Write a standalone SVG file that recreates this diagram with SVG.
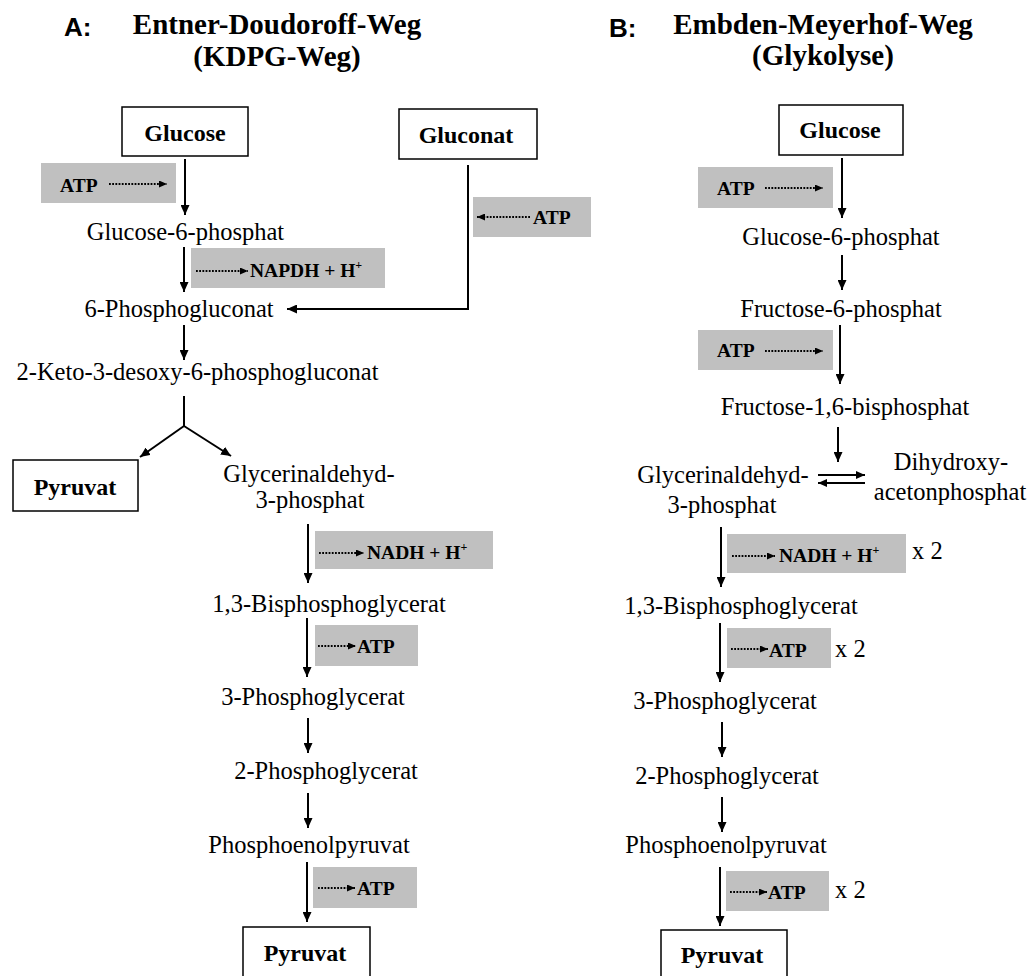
<svg xmlns="http://www.w3.org/2000/svg" width="1034" height="976" viewBox="0 0 1034 976">
<style>
.bg{fill:#ffffff}
.hd{font-family:"Liberation Sans",Arial,sans-serif;font-weight:bold;font-size:26px;fill:#000}
.tt{font-family:"Liberation Serif","Times New Roman",serif;font-weight:bold;font-size:29px;fill:#000;text-anchor:middle}
.box{fill:#fff;stroke:#000;stroke-width:1.5}
.bl{font-family:"Liberation Serif","Times New Roman",serif;font-weight:bold;font-size:24px;fill:#000;text-anchor:middle}
.tx{font-family:"Liberation Serif","Times New Roman",serif;font-size:24.5px;fill:#000;text-anchor:middle}
.tl{font-family:"Liberation Serif","Times New Roman",serif;font-size:24.5px;fill:#000}
.gr{fill:#c0c0c0}
.sm{font-family:"Liberation Serif","Times New Roman",serif;font-weight:bold;font-size:19.5px;fill:#000}
.sup{font-size:12px}
.ar{fill:none;stroke:#000;stroke-width:2;marker-end:url(#ah)}
.ln{fill:none;stroke:#000;stroke-width:2}
.dt{fill:none;stroke:#000;stroke-width:1.9;stroke-dasharray:1.8 1.4;marker-end:url(#sh)}
.eq{fill:none;stroke:#000;stroke-width:2;marker-end:url(#eh)}
</style>
<defs>
<marker id="ah" markerUnits="userSpaceOnUse" markerWidth="10" markerHeight="9" refX="10" refY="4.5" orient="auto"><path d="M0,0 L10,4.5 L0,9 z" fill="#000"/></marker>
<marker id="sh" markerUnits="userSpaceOnUse" markerWidth="8" markerHeight="7" refX="8" refY="3.5" orient="auto"><path d="M0,0 L8,3.5 L0,7 z" fill="#000"/></marker>
<marker id="eh" markerUnits="userSpaceOnUse" markerWidth="9" markerHeight="8" refX="9" refY="4" orient="auto"><path d="M0,0 L9,4 L0,8 z" fill="#000"/></marker>
</defs>
<rect class="bg" x="0" y="0" width="1034" height="976"/>

<g id="titleA">
<text class="hd" x="64" y="36">A:</text>
<text class="tt" x="277" y="34">Entner-Doudoroff-Weg</text>
<text class="tt" x="277" y="66">(KDPG-Weg)</text>
</g>
<g id="titleB">
<text class="hd" x="609" y="37">B:</text>
<text class="tt" x="823" y="34">Embden-Meyerhof-Weg</text>
<text class="tt" x="823" y="65">(Glykolyse)</text>
</g>

<g id="cofactors">
<g id="a-atp1"><rect class="gr" x="41" y="163" width="135" height="40"/><text class="sm" x="60" y="192">ATP</text><path class="dt" d="M109,184 H167"/></g>
<g id="a-atp-gluconat"><rect class="gr" x="473" y="197" width="118" height="40"/><text class="sm" x="533" y="224">ATP</text><path class="dt" d="M530,217 H477"/></g>
<g id="a-napdh"><rect class="gr" x="191" y="248" width="194" height="40"/><path class="dt" d="M196,271 H248"/><text class="sm" x="250" y="277">NAPDH + H<tspan class="sup" dy="-8">+</tspan></text></g>
<g id="a-nadh"><rect class="gr" x="315" y="531" width="178" height="38"/><path class="dt" d="M319,553 H364"/><text class="sm" x="367" y="559">NADH + H<tspan class="sup" dy="-8">+</tspan></text></g>
<g id="a-atp2"><rect class="gr" x="315" y="625" width="103" height="41"/><path class="dt" d="M318,646 H356"/><text class="sm" x="357" y="653">ATP</text></g>
<g id="a-atp3"><rect class="gr" x="313" y="867" width="104" height="41"/><path class="dt" d="M318,888 H355"/><text class="sm" x="357" y="895">ATP</text></g>

<g id="b-atp1"><rect class="gr" x="698" y="167" width="135" height="41"/><text class="sm" x="717" y="195">ATP</text><path class="dt" d="M765,188 H823"/></g>
<g id="b-atp2"><rect class="gr" x="698" y="330" width="135" height="40"/><text class="sm" x="717" y="357">ATP</text><path class="dt" d="M765,351 H823"/></g>
<g id="b-nadh"><rect class="gr" x="727" y="534" width="179" height="39"/><path class="dt" d="M732,556 H775"/><text class="sm" x="779" y="562">NADH + H<tspan class="sup" dy="-8">+</tspan></text><text class="tl" x="912" y="559">x 2</text></g>
<g id="b-atp3"><rect class="gr" x="727" y="628" width="104" height="40"/><path class="dt" d="M731,649 H768"/><text class="sm" x="769" y="657">ATP</text><text class="tl" x="835" y="657">x 2</text></g>
<g id="b-atp4"><rect class="gr" x="726" y="871" width="103" height="40"/><path class="dt" d="M730,892 H767"/><text class="sm" x="768" y="899">ATP</text><text class="tl" x="835" y="898">x 2</text></g>
</g>

<g id="connectors">
<path class="ar" d="M185,159 V215"/>
<path class="ar" d="M184,247 V292"/>
<path class="ar" d="M468,165 V309 H287"/>
<path class="ar" d="M184,325 V360"/>
<path class="ln" d="M184,396 V426"/>
<path class="ar" d="M184,426 L140,457"/>
<path class="ar" d="M184,426 L231,456"/>
<path class="ar" d="M308,524 V583"/>
<path class="ar" d="M307,618 V677"/>
<path class="ar" d="M308,718 V753"/>
<path class="ar" d="M308,793 V828"/>
<path class="ar" d="M307,862 V922"/>

<path class="ar" d="M842,158 V218"/>
<path class="ar" d="M842,255 V290"/>
<path class="ar" d="M840,325 V384"/>
<path class="ar" d="M838,427 V462"/>
<path class="eq" d="M818,475 H865"/>
<path class="eq" d="M865,483 H818"/>
<path class="ar" d="M721,527 V587"/>
<path class="ar" d="M720,623 V682"/>
<path class="ar" d="M722,722 V757"/>
<path class="ar" d="M722,797 V832"/>
<path class="ar" d="M720,867 V926"/>
</g>

<g id="a-glucose"><rect class="box" x="122" y="107" width="126" height="49"/><text class="bl" x="185" y="141">Glucose</text></g>
<g id="a-gluconat"><rect class="box" x="399" y="109" width="138" height="50"/><text class="bl" x="466" y="143">Gluconat</text></g>
<g id="a-g6p"><text class="tx" x="185.5" y="240">Glucose-6-phosphat</text></g>
<g id="a-6pg"><text class="tx" x="179" y="317">6-Phosphogluconat</text></g>
<g id="a-kdpg"><text class="tx" x="197.5" y="380">2-Keto-3-desoxy-6-phosphogluconat</text></g>
<g id="a-pyruvat1"><rect class="box" x="13" y="460" width="125" height="51"/><text class="bl" x="75" y="495">Pyruvat</text></g>
<g id="a-gap"><text class="tx" x="309" y="482">Glycerinaldehyd-</text><text class="tx" x="310" y="508">3-phosphat</text></g>
<g id="a-13bpg"><text class="tx" x="329" y="612">1,3-Bisphosphoglycerat</text></g>
<g id="a-3pg"><text class="tx" x="313" y="705">3-Phosphoglycerat</text></g>
<g id="a-2pg"><text class="tx" x="326" y="779">2-Phosphoglycerat</text></g>
<g id="a-pep"><text class="tx" x="309" y="853">Phosphoenolpyruvat</text></g>
<g id="a-pyruvat2"><rect class="box" x="243" y="927" width="127" height="52"/><text class="bl" x="305" y="961">Pyruvat</text></g>

<g id="b-glucose"><rect class="box" x="779" y="105" width="124" height="50"/><text class="bl" x="840" y="138">Glucose</text></g>
<g id="b-g6p"><text class="tx" x="841" y="245">Glucose-6-phosphat</text></g>
<g id="b-f6p"><text class="tx" x="841" y="317">Fructose-6-phosphat</text></g>
<g id="b-fbp"><text class="tx" x="845" y="415">Fructose-1,6-bisphosphat</text></g>
<g id="b-gap"><text class="tx" x="723" y="483">Glycerinaldehyd-</text><text class="tx" x="722" y="513">3-phosphat</text></g>
<g id="b-dhap"><text class="tx" x="951" y="470">Dihydroxy-</text><text class="tx" x="950" y="500">acetonphosphat</text></g>
<g id="b-13bpg"><text class="tx" x="741" y="614">1,3-Bisphosphoglycerat</text></g>
<g id="b-3pg"><text class="tx" x="725" y="709">3-Phosphoglycerat</text></g>
<g id="b-2pg"><text class="tx" x="727" y="784">2-Phosphoglycerat</text></g>
<g id="b-pep"><text class="tx" x="726" y="853">Phosphoenolpyruvat</text></g>
<g id="b-pyruvat"><rect class="box" x="661" y="930" width="126" height="52"/><text class="bl" x="722" y="963">Pyruvat</text></g>
</svg>
